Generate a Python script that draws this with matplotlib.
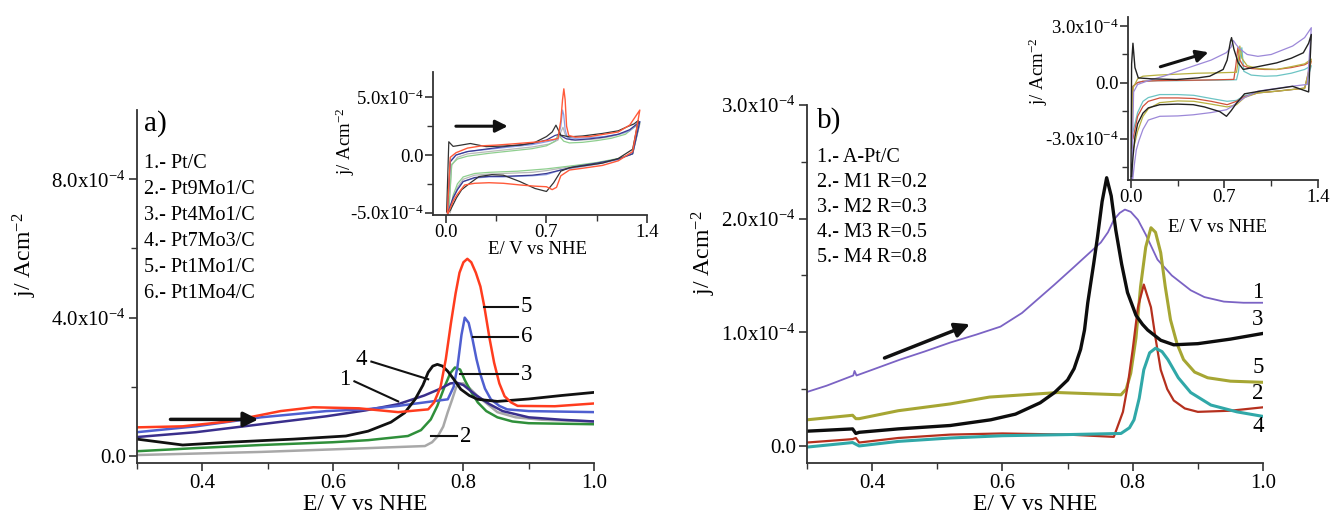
import matplotlib
matplotlib.use("Agg")
import matplotlib.pyplot as plt
from matplotlib.ticker import MultipleLocator, FixedLocator

plt.rcParams['font.family'] = ['Liberation Serif', 'DejaVu Serif']
plt.rcParams['mathtext.fontset'] = 'custom'
plt.rcParams['mathtext.rm'] = 'Liberation Serif'
plt.rcParams['mathtext.it'] = 'Liberation Serif:italic'
plt.rcParams['mathtext.bf'] = 'Liberation Serif:bold'

# ---------------- data (current density in units of 1e-4 A cm^-2) ----------------
# Panel a) main: linear sweeps
a_labels = ["1.- Pt/C", "2.- Pt9Mo1/C", "3.- Pt4Mo1/C", "4.- Pt7Mo3/C", "5.- Pt1Mo1/C", "6.- Pt1Mo4/C"]

a1_E = [0.30, 0.39, 0.49, 0.59, 0.65, 0.70, 0.74, 0.765, 0.78, 0.79, 0.80, 0.81, 0.82, 0.84, 0.86, 0.90, 0.95, 1.00]
a1_j = [0.55, 0.69, 0.92, 1.15, 1.32, 1.50, 1.75, 1.95, 2.10, 2.12, 2.05, 1.90, 1.75, 1.50, 1.30, 1.12, 1.05, 1.00]

a2_E = [0.30, 0.49, 0.654, 0.741, 0.752, 0.761, 0.769, 0.776, 0.783, 0.789, 0.795, 0.80, 0.81, 0.822, 0.837, 0.852, 0.88, 0.92, 1.00]
a2_j = [0.03, 0.12, 0.23, 0.29, 0.40, 0.58, 0.85, 1.27, 1.65, 2.00, 2.10, 2.10, 1.95, 1.73, 1.50, 1.27, 1.12, 1.05, 1.00]

a3_E = [0.30, 0.39, 0.49, 0.60, 0.654, 0.715, 0.735, 0.75, 0.76, 0.771, 0.78, 0.787, 0.795, 0.802, 0.812, 0.822, 0.835, 0.852, 0.875, 0.90, 1.00]
a3_j = [0.14, 0.23, 0.32, 0.40, 0.46, 0.58, 0.75, 1.06, 1.45, 2.00, 2.40, 2.56, 2.50, 2.20, 1.85, 1.55, 1.30, 1.12, 1.00, 0.95, 0.92]

a4_E = [0.30, 0.37, 0.44, 0.54, 0.62, 0.654, 0.689, 0.71, 0.726, 0.738, 0.746, 0.753, 0.760, 0.768, 0.776, 0.786, 0.796, 0.809, 0.822, 0.852, 0.90, 0.95, 1.00]
a4_j = [0.49, 0.32, 0.40, 0.49, 0.58, 0.72, 0.98, 1.25, 1.64, 2.05, 2.42, 2.60, 2.65, 2.60, 2.45, 2.20, 1.93, 1.75, 1.64, 1.58, 1.65, 1.75, 1.84]

a5_E = [0.30, 0.37, 0.44, 0.48, 0.52, 0.57, 0.64, 0.70, 0.746, 0.755, 0.765, 0.773, 0.781, 0.788, 0.794, 0.800, 0.806, 0.812, 0.819, 0.826, 0.832, 0.840, 0.847, 0.855, 0.863, 0.873, 0.883, 0.94, 1.00]
a5_j = [0.83, 0.86, 1.00, 1.15, 1.30, 1.41, 1.38, 1.27, 1.35, 1.55, 2.00, 2.80, 3.86, 4.70, 5.30, 5.60, 5.70, 5.60, 5.30, 4.90, 4.32, 3.40, 2.70, 2.10, 1.73, 1.55, 1.45, 1.44, 1.52]

a6_E = [0.30, 0.39, 0.49, 0.59, 0.65, 0.70, 0.74, 0.776, 0.785, 0.791, 0.797, 0.802, 0.808, 0.814, 0.820, 0.825, 0.833, 0.842, 0.855, 0.867, 0.90, 1.00]
a6_j = [0.69, 0.86, 1.12, 1.30, 1.35, 1.45, 1.55, 1.64, 2.00, 2.60, 3.50, 4.00, 3.85, 3.37, 2.80, 2.42, 1.95, 1.64, 1.45, 1.35, 1.30, 1.27]

# Panel a) inset: cyclic voltammograms (anodic then cathodic)
ai1_E = [0.01, 0.03, 0.07, 0.15, 0.30, 0.45, 0.60, 0.70, 0.76, 0.79, 0.81, 0.84, 0.90, 1.0, 1.1, 1.2, 1.28, 1.35,
         1.30, 1.20, 1.05, 0.90, 0.80, 0.70, 0.60, 0.50, 0.40, 0.30, 0.20, 0.12, 0.08, 0.05, 0.03, 0.01]
ai1_j = [-5.0, -0.6, 0.0, 0.3, 0.55, 0.8, 1.0, 1.3, 1.7, 1.8, 1.6, 1.4, 1.3, 1.4, 1.55, 1.8, 2.2, 2.9,
         0.1, -0.35, -0.7, -1.0, -1.3, -1.6, -1.75, -1.8, -1.85, -1.85, -1.95, -2.3, -3.0, -3.7, -4.4, -5.2]
ai2_E = [0.02, 0.04, 0.08, 0.15, 0.30, 0.45, 0.60, 0.72, 0.78, 0.80, 0.815, 0.83, 0.87, 0.95, 1.05, 1.15, 1.25, 1.35,
         1.30, 1.20, 1.05, 0.90, 0.80, 0.70, 0.60, 0.50, 0.40, 0.30, 0.20, 0.12, 0.08, 0.05, 0.03]
ai2_j = [-5.0, -0.9, -0.2, 0.1, 0.3, 0.5, 0.7, 0.95, 1.3, 2.0, 2.4, 1.8, 1.3, 1.3, 1.4, 1.6, 1.95, 2.7,
         0.1, -0.35, -0.7, -0.95, -1.15, -1.35, -1.5, -1.55, -1.6, -1.65, -1.75, -2.1, -2.8, -3.8, -5.0]
ai3_E = [0.02, 0.04, 0.08, 0.15, 0.30, 0.45, 0.60, 0.70, 0.76, 0.785, 0.80, 0.82, 0.86, 0.95, 1.05, 1.15, 1.25, 1.35,
         1.30, 1.20, 1.05, 0.90, 0.80, 0.70, 0.60, 0.50, 0.40, 0.30, 0.20, 0.12, 0.08, 0.05, 0.03]
ai3_j = [-4.8, -0.8, -0.35, -0.1, 0.15, 0.35, 0.55, 0.8, 1.2, 1.9, 1.5, 1.2, 1.05, 1.1, 1.25, 1.45, 1.8, 2.8,
         0.1, -0.3, -0.65, -0.9, -1.05, -1.2, -1.3, -1.4, -1.45, -1.5, -1.6, -1.9, -2.5, -3.5, -4.8]
ai4_E = [0.005, 0.02, 0.05, 0.10, 0.17, 0.28, 0.40, 0.52, 0.62, 0.70, 0.74, 0.766, 0.785, 0.80, 0.86, 0.95, 1.09, 1.20, 1.26, 1.31, 1.34,
         1.30, 1.20, 1.09, 0.95, 0.86, 0.80, 0.75, 0.70, 0.62, 0.515, 0.40, 0.32, 0.23, 0.167, 0.11, 0.074, 0.05, 0.03, 0.01]
ai4_j = [-4.9, 1.15, 0.75, 0.85, 1.0, 0.73, 0.78, 0.86, 1.1, 1.6, 2.0, 2.59, 2.1, 1.72, 1.58, 1.65, 1.87, 2.1, 2.44, 2.7, 3.0,
         0.5, -0.3, -0.7, -0.95, -1.1, -1.4, -2.4, -3.16, -2.9, -2.3, -1.75, -1.7, -1.87, -2.44, -3.0, -3.7, -4.3, -4.8, -5.0]
ai5_E = [0.01, 0.03, 0.07, 0.15, 0.25, 0.35, 0.45, 0.55, 0.65, 0.75, 0.78, 0.80, 0.812, 0.821, 0.83, 0.84, 0.855, 0.90, 1.0, 1.10, 1.20, 1.28, 1.35,
         1.30, 1.20, 1.09, 0.95, 0.86, 0.80, 0.77, 0.74, 0.70, 0.62, 0.52, 0.40, 0.30, 0.20, 0.13, 0.08, 0.05, 0.03, 0.01]
ai5_j = [-5.0, -0.2, 0.2, 0.6, 0.8, 0.86, 0.95, 1.05, 1.15, 1.35, 1.44, 3.0, 4.8, 5.74, 4.8, 2.5, 1.7, 1.55, 1.6, 1.8, 2.0, 2.6, 3.9,
         0.3, -0.5, -0.9, -1.15, -1.3, -1.8, -2.8, -3.0, -2.75, -2.7, -2.6, -2.45, -2.4, -2.45, -2.6, -3.4, -4.0, -4.6, -5.2]
ai6_E = [0.01, 0.03, 0.07, 0.15, 0.30, 0.45, 0.60, 0.72, 0.78, 0.80, 0.812, 0.82, 0.83, 0.845, 0.90, 1.0, 1.1, 1.2, 1.28, 1.35,
         1.30, 1.20, 1.05, 0.90, 0.80, 0.75, 0.70, 0.60, 0.50, 0.40, 0.30, 0.20, 0.12, 0.08, 0.05, 0.03, 0.01]
ai6_j = [-5.0, -0.5, 0.0, 0.3, 0.5, 0.7, 0.9, 1.2, 1.4, 2.5, 3.9, 3.5, 2.2, 1.5, 1.45, 1.5, 1.6, 1.8, 2.1, 2.9,
         0.2, -0.4, -0.8, -1.1, -1.3, -1.5, -1.7, -1.8, -1.85, -1.9, -1.9, -2.0, -2.3, -3.0, -3.8, -4.5, -5.2]

# Panel b) main: linear sweeps
b_labels = ["1.- A-Pt/C", "2.- M1 R=0.2", "3.- M2 R=0.3", "4.- M3 R=0.5", "5.- M4 R=0.8"]

b1_E = [0.30, 0.33, 0.371, 0.373, 0.376, 0.40, 0.443, 0.48, 0.52, 0.56, 0.597, 0.63, 0.656, 0.68, 0.709, 0.73, 0.751, 0.762,
        0.771, 0.78, 0.788, 0.797, 0.808, 0.82, 0.838, 0.86, 0.889, 0.91, 0.94, 0.97, 1.00]
b1_j = [0.475, 0.53, 0.62, 0.66, 0.62, 0.67, 0.76, 0.83, 0.91, 0.98, 1.05, 1.17, 1.30, 1.42, 1.57, 1.68, 1.79, 1.88,
        1.99, 2.05, 2.08, 2.06, 1.99, 1.86, 1.64, 1.50, 1.37, 1.31, 1.27, 1.26, 1.26]

b2_E = [0.30, 0.37, 0.375, 0.38, 0.44, 0.52, 0.60, 0.70, 0.771, 0.785, 0.792, 0.80, 0.808, 0.817, 0.828, 0.835, 0.843, 0.853, 0.863, 0.88, 0.90, 0.95, 1.00]
b2_j = [0.03, 0.06, 0.07, 0.03, 0.07, 0.10, 0.11, 0.10, 0.08, 0.30, 0.52, 0.85, 1.22, 1.42, 1.22, 0.95, 0.67, 0.50, 0.40, 0.33, 0.30, 0.31, 0.34]

b3_E = [0.30, 0.37, 0.375, 0.38, 0.44, 0.52, 0.582, 0.62, 0.658, 0.68, 0.70, 0.71, 0.72, 0.726, 0.731, 0.736, 0.74, 0.746, 0.753, 0.76,
        0.767, 0.774, 0.783, 0.792, 0.805, 0.815, 0.823, 0.843, 0.863, 0.90, 0.95, 1.00]
b3_j = [0.13, 0.15, 0.11, 0.12, 0.15, 0.18, 0.23, 0.28, 0.38, 0.47, 0.58, 0.68, 0.85, 1.02, 1.26, 1.45, 1.60, 1.84, 2.15, 2.36,
        2.20, 1.90, 1.60, 1.35, 1.15, 1.07, 1.02, 0.93, 0.89, 0.90, 0.94, 0.99]

b4_E = [0.30, 0.37, 0.38, 0.44, 0.52, 0.60, 0.70, 0.782, 0.795, 0.802, 0.81, 0.817, 0.826, 0.835, 0.845, 0.854, 0.87, 0.889, 0.92, 0.96, 1.00]
b4_j = [-0.01, 0.03, 0.00, 0.04, 0.07, 0.09, 0.10, 0.11, 0.16, 0.23, 0.42, 0.67, 0.82, 0.86, 0.83, 0.76, 0.60, 0.47, 0.36, 0.30, 0.26]

b5_E = [0.30, 0.37, 0.375, 0.38, 0.44, 0.52, 0.58, 0.685, 0.782, 0.79, 0.797, 0.805, 0.812, 0.82, 0.828, 0.835, 0.843, 0.85, 0.858, 0.868, 0.878, 0.895, 0.915, 0.95, 1.00]
b5_j = [0.23, 0.27, 0.24, 0.24, 0.31, 0.37, 0.43, 0.47, 0.45, 0.50, 0.64, 0.95, 1.40, 1.75, 1.92, 1.88, 1.70, 1.40, 1.11, 0.90, 0.76, 0.65, 0.60, 0.57, 0.56]

# Panel b) inset: cyclic voltammograms
bi1_E = [0.005, 0.02, 0.05, 0.15, 0.25, 0.35, 0.466, 0.60, 0.715, 0.75, 0.766, 0.79, 0.815, 0.87, 0.95, 1.05, 1.21, 1.30, 1.35,
         1.32, 1.20, 1.05, 0.95, 0.85, 0.75, 0.715, 0.60, 0.466, 0.35, 0.216, 0.13, 0.09, 0.06, 0.04, 0.025, 0.01]
bi1_j = [-5.4, -0.5, -0.1, 0.15, 0.35, 0.6, 0.88, 1.2, 1.6, 1.9, 2.25, 2.0, 1.8, 1.5, 1.4, 1.5, 1.95, 2.4, 2.93,
         -0.1, -0.2, -0.35, -0.46, -0.8, -1.3, -1.45, -1.6, -1.72, -1.78, -1.8, -2.0, -2.5, -3.1, -3.6, -4.4, -5.4]
bi2_E = [0.005, 0.015, 0.05, 0.09, 0.20, 0.35, 0.50, 0.65, 0.77, 0.785, 0.80, 0.815, 0.84, 0.90, 1.0, 1.09, 1.20, 1.30, 1.35,
         1.30, 1.09, 0.95, 0.85, 0.79, 0.72, 0.60, 0.47, 0.35, 0.216, 0.13, 0.09, 0.05, 0.03, 0.015]
bi2_j = [-3.0, -0.2, 0.0, 0.07, 0.1, 0.12, 0.13, 0.15, 0.17, 0.9, 1.86, 1.2, 0.9, 0.75, 0.7, 0.7, 0.8, 0.95, 1.15,
         -0.3, -0.46, -0.55, -0.75, -1.0, -1.18, -1.0, -0.85, -0.82, -0.82, -1.0, -1.27, -1.8, -2.5, -3.0]
bi3_E = [0.00, 0.005, 0.015, 0.03, 0.055, 0.15, 0.34, 0.50, 0.59, 0.69, 0.72, 0.745, 0.753, 0.77, 0.803, 0.84, 0.95, 1.09, 1.20, 1.29, 1.33, 1.35,
         1.33, 1.21, 0.965, 0.85, 0.79, 0.75, 0.715, 0.665, 0.55, 0.466, 0.35, 0.216, 0.13, 0.09, 0.05, 0.03, 0.015, 0.005]
bi3_j = [-5.4, 1.0, 2.1, 0.8, 0.25, 0.2, 0.16, 0.25, 0.34, 0.7, 1.2, 2.2, 2.4, 1.8, 1.05, 0.7, 0.85, 1.05, 1.3, 1.59, 2.1, 2.57,
         -0.5, -0.2, -0.46, -0.6, -1.1, -1.5, -1.8, -1.55, -1.3, -1.18, -1.15, -1.18, -1.35, -1.63, -2.2, -2.9, -4.0, -5.0]
bi4_E = [0.005, 0.015, 0.05, 0.09, 0.20, 0.35, 0.50, 0.65, 0.79, 0.805, 0.815, 0.83, 0.845, 0.90, 1.0, 1.09, 1.20, 1.30, 1.35,
         1.30, 1.09, 0.95, 0.85, 0.79, 0.72, 0.60, 0.47, 0.35, 0.216, 0.13, 0.09, 0.05, 0.03, 0.015]
bi4_j = [-2.8, -0.2, 0.0, 0.07, 0.1, 0.1, 0.12, 0.13, 0.15, 0.6, 1.2, 1.86, 0.6, 0.4, 0.34, 0.36, 0.5, 0.7, 0.9,
         -0.3, -0.46, -0.55, -0.7, -0.95, -1.0, -0.85, -0.68, -0.64, -0.64, -0.8, -1.0, -1.6, -2.2, -2.6]
bi5_E = [0.005, 0.015, 0.05, 0.09, 0.20, 0.35, 0.50, 0.65, 0.79, 0.80, 0.815, 0.83, 0.87, 0.95, 1.09, 1.20, 1.30, 1.35,
         1.30, 1.09, 0.95, 0.85, 0.79, 0.72, 0.60, 0.47, 0.35, 0.216, 0.13, 0.09, 0.05, 0.03, 0.015]
bi5_j = [-3.5, -0.3, 0.2, 0.34, 0.4, 0.45, 0.5, 0.52, 0.55, 1.0, 1.95, 1.3, 0.9, 0.75, 0.7, 0.85, 1.0, 1.25,
         -0.3, -0.46, -0.55, -0.8, -1.18, -1.3, -1.15, -1.0, -0.98, -1.07, -1.4, -1.8, -2.6, -3.2, -3.6]

# tick labels
a_yticks = [0.0, 4.0, 8.0]
a_yticklabels = ["0.0", r"4.0x10$^{-4}$", r"8.0x10$^{-4}$"]
b_yticks = [0.0, 1.0, 2.0, 3.0]
b_yticklabels = ["0.0", r"1.0x10$^{-4}$", r"2.0x10$^{-4}$", r"3.0x10$^{-4}$"]
main_xticks = [0.4, 0.6, 0.8, 1.0]
main_xticklabels = ["0.4", "0.6", "0.8", "1.0"]
ai_yticks = [-5.0, 0.0, 5.0]
ai_yticklabels = [r"-5.0x10$^{-4}$", "0.0", r"5.0x10$^{-4}$"]
bi_yticks = [-3.0, 0.0, 3.0]
bi_yticklabels = [r"-3.0x10$^{-4}$", "0.0", r"3.0x10$^{-4}$"]
inset_xticks = [0.0, 0.7, 1.4]
inset_xticklabels = ["0.0", "0.7", "1.4"]

# ---------------- figure ----------------
W, H = 1333, 522
fig = plt.figure(figsize=(W / 100, H / 100), dpi=100)

def px_axes(x0, y0, x1, y1):
    return fig.add_axes([x0 / W, 1 - y1 / H, (x1 - x0) / W, (y1 - y0) / H])

SP = '#333333'
def style(ax, fs, pad=2):
    for s in ['top', 'right']:
        ax.spines[s].set_visible(False)
    for s in ['left', 'bottom']:
        ax.spines[s].set_color(SP)
        ax.spines[s].set_linewidth(1.3)
    ax.tick_params(which='major', direction='out', length=6, width=1.2, color=SP, labelsize=fs, pad=pad)
    ax.tick_params(which='minor', direction='out', length=4, width=1.0, color=SP)
    ax.patch.set_alpha(0)

FS_TICK = 15
FS_LAB = 17
FS_TXT = 14.5
FS_IN = 13.5

# ----- panel a main -----
axA = px_axes(137, 110, 594, 463)
style(axA, FS_TICK)
axA.set_xlim(0.3, 1.0)
axA.set_ylim(-0.2, 10.0)
axA.set_xticks(main_xticks, main_xticklabels)
axA.xaxis.set_minor_locator(MultipleLocator(0.1))
axA.set_yticks(a_yticks, a_yticklabels)
axA.yaxis.set_minor_locator(FixedLocator([2.0, 6.0]))

axA.plot(a2_E, a2_j, color='#a8a8a8', lw=1.8)
axA.plot(a3_E, a3_j, color='#2f8f3a', lw=1.8)
axA.plot(a1_E, a1_j, color='#3a2f8c', lw=1.8)
axA.plot(a6_E, a6_j, color='#4f5fd0', lw=1.8)
axA.plot(a4_E, a4_j, color='#111111', lw=2.0)
axA.plot(a5_E, a5_j, color='#ff3c1e', lw=1.8)

axA.annotate('', xy=(0.49, 1.06), xytext=(0.347, 1.06),
             arrowprops=dict(arrowstyle='-|>', lw=2.5, color='#111111', mutation_scale=22))

axA.text(0.31, 9.6, 'a)', fontsize=21, va='center', ha='left')
for i, t in enumerate(a_labels):
    axA.text(0.31, 8.45 - i * 0.75, t, fontsize=FS_TXT, va='center', ha='left')

lk = dict(color='#111111', lw=1.5)
axA.plot([0.832, 0.883], [4.32, 4.32], **lk)
axA.text(0.888, 4.32, '5', fontsize=FS_TXT + 2, va='center', ha='left')
axA.plot([0.814, 0.883], [3.45, 3.45], **lk)
axA.text(0.888, 3.45, '6', fontsize=FS_TXT + 2, va='center', ha='left')
axA.plot([0.795, 0.883], [2.36, 2.36], **lk)
axA.text(0.888, 2.36, '3', fontsize=FS_TXT + 2, va='center', ha='left')
axA.plot([0.659, 0.746], [2.73, 2.22], **lk)
axA.text(0.652, 2.78, '4', fontsize=FS_TXT + 2, va='center', ha='right')
axA.plot([0.633, 0.70], [2.16, 1.58], **lk)
axA.text(0.626, 2.2, '1', fontsize=FS_TXT + 2, va='center', ha='right')
axA.plot([0.75, 0.79], [0.58, 0.58], **lk)
axA.text(0.795, 0.58, '2', fontsize=FS_TXT + 2, va='center', ha='left')

fig.text(25 / W, 1 - 255 / H, r'j/ Acm$^{-2}$', rotation=90, fontsize=FS_LAB, ha='center', va='center')
fig.text(365 / W, 1 - 505 / H, 'E/ V vs NHE', fontsize=FS_LAB, ha='center', va='center')

# ----- panel a inset -----
axAi = px_axes(433, 72, 647, 215)
style(axAi, FS_IN, pad=0.5)
axAi.set_xlim(-0.09, 1.4)
axAi.set_ylim(-5.2, 7.2)
axAi.set_xticks(inset_xticks, inset_xticklabels)
axAi.xaxis.set_minor_locator(MultipleLocator(0.35))
axAi.set_yticks(ai_yticks, ai_yticklabels)
axAi.yaxis.set_minor_locator(FixedLocator([-2.5, 2.5]))
axAi.plot(ai2_E, ai2_j, color='#b8b8b8', lw=0.9)
axAi.plot(ai3_E, ai3_j, color='#8fcf8f', lw=0.9)
axAi.plot(ai6_E, ai6_j, color='#8c9ee6', lw=0.9)
axAi.plot(ai1_E, ai1_j, color='#3a3a90', lw=0.9)
axAi.plot(ai4_E, ai4_j, color='#333333', lw=0.9)
axAi.plot(ai5_E, ai5_j, color='#ff5a3a', lw=1.0)
axAi.annotate('', xy=(0.45, 2.5), xytext=(0.05, 2.5),
              arrowprops=dict(arrowstyle='-|>', lw=2.2, color='#111111', mutation_scale=18))
fig.text(345 / W, 1 - 141 / H, r'j/ Acm$^{-2}$', rotation=90, fontsize=FS_IN, ha='center', va='center')
fig.text(538 / W, 1 - 250 / H, 'E/ V vs NHE', fontsize=FS_IN, ha='center', va='center')

# ----- panel b main -----
axB = px_axes(807, 105, 1263, 463)
style(axB, FS_TICK)
axB.set_xlim(0.3, 1.0)
axB.set_ylim(-0.15, 3.0)
axB.set_xticks(main_xticks, main_xticklabels)
axB.xaxis.set_minor_locator(MultipleLocator(0.1))
axB.set_yticks(b_yticks, b_yticklabels)
axB.yaxis.set_minor_locator(FixedLocator([0.5, 1.5, 2.5]))

axB.plot(b1_E, b1_j, color='#7b63c4', lw=1.3)
axB.plot(b5_E, b5_j, color='#a6a633', lw=2.2)
axB.plot(b2_E, b2_j, color='#b5301e', lw=1.6)
axB.plot(b4_E, b4_j, color='#30a8a8', lw=2.2)
axB.plot(b3_E, b3_j, color='#0d0d0d', lw=2.4)

axB.annotate('', xy=(0.554, 1.08), xytext=(0.415, 0.765),
             arrowprops=dict(arrowstyle='-|>', lw=2.5, color='#111111', mutation_scale=22))

axB.text(0.315, 2.86, 'b)', fontsize=21, va='center', ha='left')
for i, t in enumerate(b_labels):
    axB.text(0.315, 2.54 - i * 0.22, t, fontsize=FS_TXT, va='center', ha='left')

for lab, yv in zip(['1', '3', '5', '2', '4'], [1.35, 1.11, 0.69, 0.46, 0.17]):
    axB.text(0.992, yv, lab, fontsize=FS_TXT + 2, va='center', ha='center')

fig.text(704 / W, 1 - 253 / H, r'j/ Acm$^{-2}$', rotation=90, fontsize=FS_LAB, ha='center', va='center')
fig.text(1035 / W, 1 - 505 / H, 'E/ V vs NHE', fontsize=FS_LAB, ha='center', va='center')

# ----- panel b inset -----
axBi = px_axes(1128, 17, 1318, 180)
style(axBi, FS_IN, pad=0.5)
axBi.set_xlim(-0.022, 1.4)
axBi.set_ylim(-5.2, 3.5)
axBi.set_xticks(inset_xticks, inset_xticklabels)
axBi.xaxis.set_minor_locator(MultipleLocator(0.35))
axBi.set_yticks(bi_yticks, bi_yticklabels)
axBi.yaxis.set_minor_locator(FixedLocator([-4.5, -1.5, 1.5]))
axBi.plot(bi4_E, bi4_j, color='#6cc4c4', lw=0.9)
axBi.plot(bi2_E, bi2_j, color='#d0503a', lw=0.9)
axBi.plot(bi5_E, bi5_j, color='#b8b040', lw=0.9)
axBi.plot(bi1_E, bi1_j, color='#9c88d8', lw=0.9)
axBi.plot(bi3_E, bi3_j, color='#222222', lw=1.0)
axBi.annotate('', xy=(0.6, 1.66), xytext=(0.2, 0.8),
              arrowprops=dict(arrowstyle='-|>', lw=2.2, color='#111111', mutation_scale=18))
fig.text(1038 / W, 1 - 71 / H, r'j/ Acm$^{-2}$', rotation=90, fontsize=FS_IN, ha='center', va='center')
fig.text(1217 / W, 1 - 228 / H, 'E/ V vs NHE', fontsize=FS_IN, ha='center', va='center')

fig.savefig('out.png', dpi=100)
